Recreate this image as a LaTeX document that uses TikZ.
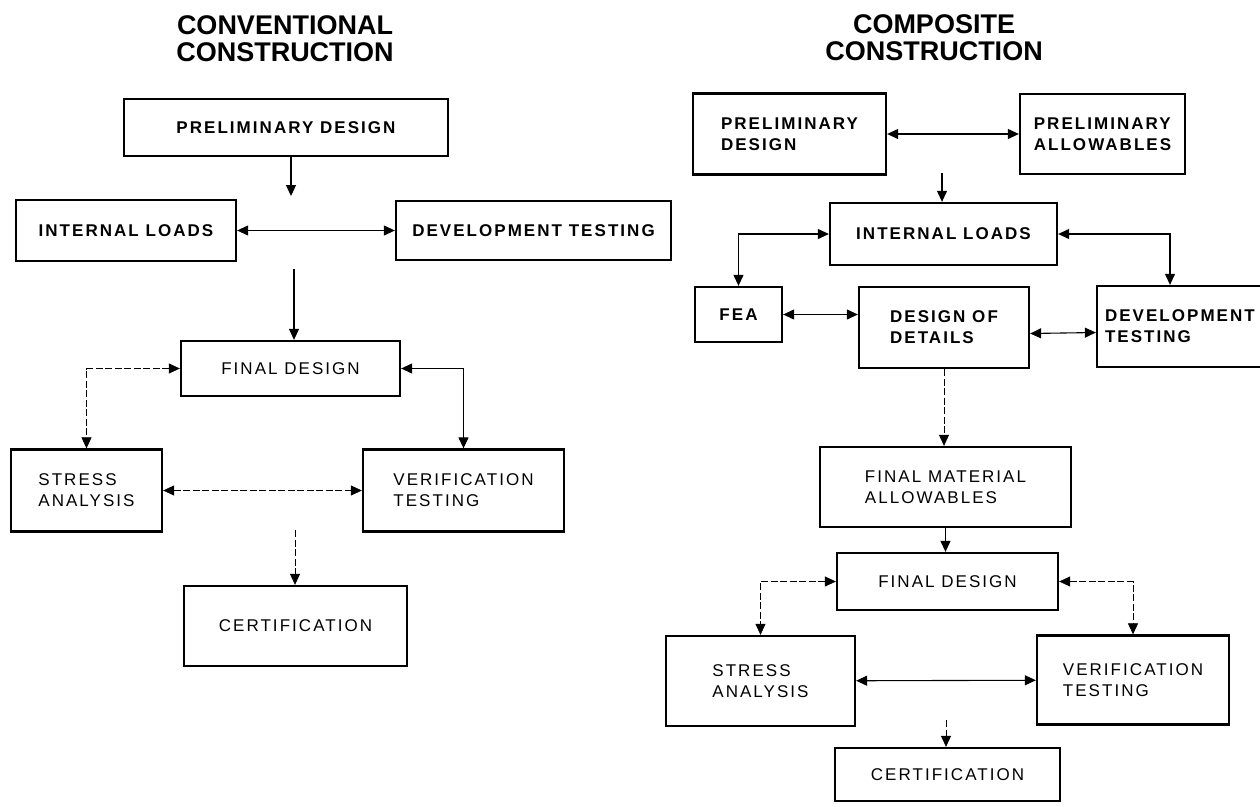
\documentclass[tikz,border=0pt]{standalone}
\usepackage{fontspec}
\setmainfont{Liberation Sans}
\newfontfamily\rlabelfont[LetterSpace=12]{Liberation Sans}
\newfontfamily\blabelfont[LetterSpace=12]{Liberation Sans}
\usepackage{tikz}
\usetikzlibrary{arrows.meta, positioning, calc}

\begin{document}
\begin{tikzpicture}[
  x=1pt, y=-1pt,
  title/.style={font=\bfseries\fontsize{27}{27}\selectfont, align=center, inner sep=0pt},
  box/.style={draw, line width=2.3pt, inner sep=0pt, align=left},
  boxb/.style={box, font=\blabelfont\bfseries\fontsize{17}{21}\selectfont},
  boxr/.style={box, font=\rlabelfont\fontsize{17}{21}\selectfont},
  arr/.style={-{Triangle[length=11pt,width=10pt]}, line width=1.1pt},
  dbl/.style={{Triangle[length=11pt,width=10pt]}-{Triangle[length=11pt,width=10pt]}, line width=1.1pt},
  faint/.style={line width=0.7pt, dash pattern=on 7pt off 2.5pt}
]
\useasboundingbox (0,0) rectangle (1260,806);
\clip (0,0) rectangle (1260,806);

% conventional construction
\node[title] (cTitle) at (285,39) {CONVENTIONAL\\CONSTRUCTION};
\node[boxb, minimum width=324pt, minimum height=57pt] (cPre)   at (286,127.5) {PRELIMINARY DESIGN};
\node[boxb, minimum width=220pt, minimum height=61pt] (cLoads) at (126,230.5) {INTERNAL LOADS};
\node[boxb, minimum width=275pt, minimum height=59pt] (cDev)   at (533.5,230.5) {DEVELOPMENT TESTING};
\node[boxr, minimum width=219pt, minimum height=55pt] (cFin)   at (290.5,368.5) {FINAL DESIGN};
\node[boxr, minimum width=151pt, minimum height=82pt] (cStr)   at (86.5,490.5) {STRESS\\ANALYSIS};
\node[boxr, minimum width=201pt, minimum height=82pt] (cVer)   at (463.5,490.5) {VERIFICATION\\TESTING};
\node[boxr, minimum width=223pt, minimum height=80pt] (cCert)  at (295.5,626) {CERTIFICATION};

\coordinate (cA) at (291,196);
\coordinate (cB) at (294,269);
\coordinate (cC) at (295,530);

\draw[arr] (cPre.south -| cA) -- (cA);
\draw[dbl] (cLoads) -- (cDev);
\draw[arr] (cB) -- (cB |- cFin.north);
\draw[dbl, faint] (cFin.west) -| (cStr.north);
\draw[dbl] (cFin.east) -| (cVer.north);
\draw[dbl, faint] (cStr) -- (cVer);
\draw[arr, faint] (cC) -- (cC |- cCert.north);

% composite construction
\node[title] (pTitle) at (934,38) {COMPOSITE\\CONSTRUCTION};
\node[boxb, minimum width=193pt, minimum height=81pt] (pPre)   at (789.5,134) {PRELIMINARY\\DESIGN};
\node[boxb, minimum width=165pt, minimum height=80pt] (pAllow) at (1102.5,134) {PRELIMINARY\\ALLOWABLES};
\node[boxb, minimum width=227pt, minimum height=62pt] (pLoads) at (943.5,234) {INTERNAL LOADS};
\node[boxb, minimum width=87pt,  minimum height=55pt] (pFea)   at (738.5,314.5) {FEA};
\node[boxb, minimum width=170pt, minimum height=81pt] (pDet)   at (944,327.5) {DESIGN OF\\DETAILS};
\node[boxb, minimum width=168pt, minimum height=81pt, text width=152pt] (pDevT) at (1181,326.5) {DEVELOPMENT\\TESTING};
\node[boxr, minimum width=251pt, minimum height=80pt] (pMat)   at (945.5,487) {FINAL MATERIAL\\ALLOWABLES};
\node[boxr, minimum width=221pt, minimum height=57pt] (pFin)   at (947.5,581.5) {FINAL DESIGN};
\node[boxr, minimum width=189pt, minimum height=90pt] (pStr)   at (760.5,681) {STRESS\\ANALYSIS};
\node[boxr, minimum width=192pt, minimum height=89pt] (pVer)   at (1133,680) {VERIFICATION\\TESTING};
\node[boxr, minimum width=225pt, minimum height=53pt] (pCert)  at (947.5,774.5) {CERTIFICATION};

\coordinate (pA) at (942,173);
\coordinate (pB) at (946,720);

\draw[dbl] (pPre) -- (pAllow);
\draw[arr] (pA) -- (pA |- pLoads.north);
\draw[dbl] (pLoads.west) -| (pFea.north);
\draw[dbl] (pLoads.east) -| ([xshift=-11pt]pDevT.north);
\draw[dbl] (pFea.east) -- (pFea.east -| pDet.west);
\draw[dbl] ([yshift=-6pt]pDet.east) -- ([yshift=-6pt]pDevT.west);
\draw[arr, faint] (pDet.south) -- (pDet.south |- pMat.north);
\draw[arr] (pMat.south) -- (pMat.south |- pFin.north);
\draw[dbl, faint] (pFin.west) -| (pStr.north);
\draw[dbl, faint] (pFin.east) -| (pVer.north);
\draw[dbl] (pStr) -- (pVer);
\draw[arr, faint] (pB) -- (pB |- pCert.north);

\end{tikzpicture}
\end{document}
